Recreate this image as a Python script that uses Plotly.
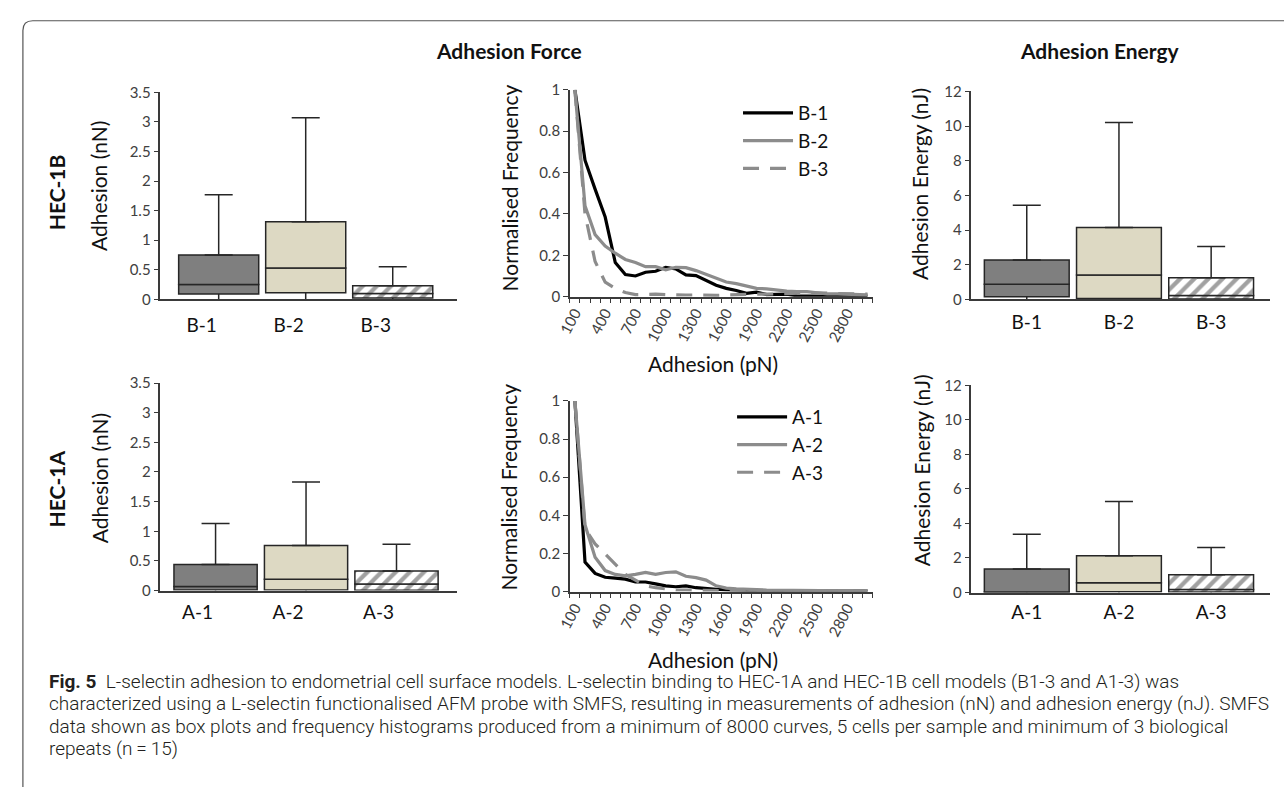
import plotly.graph_objects as go

W, H = 1284, 795

# ---------------- data ----------------
hec1b_groups = ["B-1", "B-2", "B-3"]
hec1a_groups = ["A-1", "A-2", "A-3"]

# Adhesion force (nN) box statistics
b_force_min = [0.0, 0.0, 0.0]
b_force_q1 = [0.09, 0.11, 0.02]
b_force_med = [0.25, 0.53, 0.10]
b_force_q3 = [0.75, 1.31, 0.23]
b_force_max = [1.77, 3.07, 0.55]

a_force_min = [0.0, 0.0, 0.0]
a_force_q1 = [0.01, 0.01, 0.005]
a_force_med = [0.07, 0.19, 0.11]
a_force_q3 = [0.44, 0.76, 0.33]
a_force_max = [1.13, 1.83, 0.78]

# Adhesion energy (nJ) box statistics
b_energy_min = [0.0, 0.0, 0.0]
b_energy_q1 = [0.15, 0.05, 0.02]
b_energy_med = [0.87, 1.40, 0.22]
b_energy_q3 = [2.27, 4.15, 1.25]
b_energy_max = [5.43, 10.2, 3.05]

a_energy_min = [0.0, 0.0, 0.0]
a_energy_q1 = [0.01, 0.04, 0.03]
a_energy_med = [0.03, 0.57, 0.17]
a_energy_q3 = [1.36, 2.13, 1.03]
a_energy_max = [3.38, 5.27, 2.60]

# Frequency distributions (normalised), adhesion bins in pN
adhesion_bins = [100, 200, 300, 400, 500, 600, 700, 800, 900, 1000,
                 1100, 1200, 1300, 1400, 1500, 1600, 1700, 1800, 1900, 2000,
                 2100, 2200, 2300, 2400, 2500, 2600, 2700, 2800, 2900, 3000]
bin_tick_labels = [100, 400, 700, 1000, 1300, 1600, 1900, 2200, 2500, 2800]

b1_freq = [1.0, 0.66, 0.52, 0.385, 0.165, 0.107, 0.10, 0.118, 0.123, 0.142,
           0.134, 0.105, 0.102, 0.08, 0.055, 0.04, 0.03, 0.016, 0.022, 0.01,
           0.01, 0.012, 0.004, 0.003, 0.003, 0.002, 0.004, 0.003, 0.003, 0.003]
b2_freq = [1.0, 0.44, 0.30, 0.245, 0.21, 0.18, 0.165, 0.145, 0.145, 0.13,
           0.142, 0.14, 0.126, 0.107, 0.087, 0.071, 0.063, 0.05, 0.04, 0.038,
           0.031, 0.027, 0.024, 0.024, 0.019, 0.013, 0.013, 0.011, 0.01, 0.009]
b3_freq = [1.0, 0.40, 0.17, 0.07, 0.04, 0.02, 0.01, 0.012, 0.012, 0.01,
           0.008, 0.008, 0.008, 0.006, 0.006, 0.008, 0.01, 0.01, 0.012, 0.012,
           0.014, 0.015, 0.015, 0.018, 0.018, 0.016, 0.015, 0.014, 0.013, 0.012]

a1_freq = [1.0, 0.155, 0.095, 0.075, 0.07, 0.065, 0.05, 0.05, 0.04, 0.03,
           0.025, 0.03, 0.02, 0.014, 0.012, 0.009, 0.006, 0.005, 0.004, 0.004,
           0.003, 0.003, 0.003, 0.002, 0.002, 0.002, 0.002, 0.002, 0.002, 0.002]
a2_freq = [1.0, 0.35, 0.18, 0.11, 0.09, 0.082, 0.09, 0.10, 0.09, 0.10,
           0.103, 0.08, 0.073, 0.06, 0.03, 0.018, 0.014, 0.01, 0.01, 0.008,
           0.007, 0.006, 0.005, 0.005, 0.004, 0.004, 0.004, 0.004, 0.004, 0.004]
a3_freq = [1.0, 0.33, 0.25, 0.195, 0.145, 0.09, 0.06, 0.03, 0.02, 0.012,
           0.008, 0.008, 0.006, 0.005, 0.004, 0.004, 0.004, 0.003, 0.003, 0.003,
           0.003, 0.003, 0.003, 0.003, 0.003, 0.003, 0.003, 0.003, 0.003, 0.003]

caption_lines = [
    "<b>Fig. 5</b>\u00a0\u00a0L-selectin adhesion to endometrial cell surface models. L-selectin binding to HEC-1A and HEC-1B cell models (B1-3 and A1-3) was",
    "characterized using a L-selectin functionalised AFM probe with SMFS, resulting in measurements of adhesion (nN) and adhesion energy (nJ). SMFS",
    "data shown as box plots and frequency histograms produced from a minimum of 8000 curves, 5 cells per sample and minimum of 3 biological",
    "repeats (n\u2009=\u200915)",
]

# ---------------- styles ----------------
FONT = "Lato"
TICK_COL = "#404040"
AX_COL = "#3a3a3a"
EDGE = "#262626"
BOX_FILL = ["#7f7f7f", "#ddd9c3", "#ffffff"]
BOX_PATTERN = ["", "", "/"]
HATCH = "#b8ad78"


def px_x(p):
    return p / W


def px_y(p):
    return 1 - p / H


fig = go.Figure()


def add_box_panel(n, cats, vmin, q1, med, q3, vmax, cap):
    xa = "x" if n == 1 else f"x{n}"
    ya = "y" if n == 1 else f"y{n}"
    for base, top in ((q1, med), (med, q3)):
        fig.add_trace(go.Bar(
            x=cats, y=[t - b for b, t in zip(base, top)], base=base,
            xaxis=xa, yaxis=ya, width=0.92, showlegend=False,
            marker=dict(color=BOX_FILL, line=dict(color=EDGE, width=1.5),
                        pattern=dict(shape=BOX_PATTERN, fgcolor=[HATCH] * 3,
                                     bgcolor=["#ffffff"] * 3, size=10,
                                     solidity=0.42, fillmode="overlay")),
            hoverinfo="skip"))
    fig.add_trace(go.Scatter(
        x=cats, y=q3, mode="markers", marker=dict(size=0.1, color=EDGE),
        xaxis=xa, yaxis=ya, showlegend=False, hoverinfo="skip",
        error_y=dict(type="data", symmetric=False,
                     array=[m - t for m, t in zip(vmax, q3)],
                     arrayminus=[0, 0, 0], color=EDGE, thickness=1.5, width=cap)))
    fig.add_trace(go.Scatter(
        x=cats, y=q1, mode="markers", marker=dict(size=0.1, color=EDGE),
        xaxis=xa, yaxis=ya, showlegend=False, hoverinfo="skip",
        error_y=dict(type="data", symmetric=False,
                     array=[0, 0, 0],
                     arrayminus=[b - m for b, m in zip(q1, vmin)],
                     color=EDGE, thickness=1.5, width=0)))


def add_line_panel(n, labels, series, legend):
    xa = "x" if n == 1 else f"x{n}"
    ya = "y" if n == 1 else f"y{n}"
    styles = [dict(color="#000000", width=3.2, dash="solid"),
              dict(color="#8c8c8c", width=3.2, dash="solid"),
              dict(color="#8c8c8c", width=3.2, dash="16px,11px")]
    for lab, ys, st in zip(labels, series, styles):
        fig.add_trace(go.Scatter(
            x=adhesion_bins, y=ys, mode="lines", name=lab, line=st,
            xaxis=xa, yaxis=ya, legend=legend, hoverinfo="skip"))


add_box_panel(1, hec1b_groups, b_force_min, b_force_q1, b_force_med, b_force_q3, b_force_max, 14)
add_line_panel(2, hec1b_groups, [b1_freq, b2_freq, b3_freq], "legend")
add_box_panel(3, hec1b_groups, b_energy_min, b_energy_q1, b_energy_med, b_energy_q3, b_energy_max, 14)
add_box_panel(4, hec1a_groups, a_force_min, a_force_q1, a_force_med, a_force_q3, a_force_max, 14)
add_line_panel(5, hec1a_groups, [a1_freq, a2_freq, a3_freq], "legend2")
add_box_panel(6, hec1a_groups, a_energy_min, a_energy_q1, a_energy_med, a_energy_q3, a_energy_max, 14)

# ---------------- axes ----------------
# panel pixel boxes: (x0, x1, ytop, ybottom)
panels = {
    1: (148, 448, 84.3, 296),
    2: (562, 868, 81.7, 293.3),
    3: (968, 1270, 83.3, 296),
    4: (148, 448, 381.7, 594),
    5: (562, 868, 400, 595),
    6: (968, 1270, 384, 596),
}
xranges = {1: [-0.67, 2.74], 3: [-0.60, 2.64], 4: [-0.61, 2.67], 6: [-0.60, 2.64]}
yranges = {1: [0, 3.5], 2: [0, 1], 3: [0, 12], 4: [0, 3.5], 5: [0, 1], 6: [0, 12]}
ydticks = {1: 0.5, 2: 0.2, 3: 2, 4: 0.5, 5: 0.2, 6: 2}
label_shift = {1: -17, 3: 0, 4: -18, 6: 0}
label_standoff = {1: 8, 3: 5, 4: 4, 6: 2}

layout_axes = {}
for n, (x0, x1, yt, yb) in panels.items():
    xk = "xaxis" if n == 1 else f"xaxis{n}"
    yk = "yaxis" if n == 1 else f"yaxis{n}"
    ya_name = "y" if n == 1 else f"y{n}"
    xa_name = "x" if n == 1 else f"x{n}"
    if n in (2, 5):
        layout_axes[xk] = dict(
            domain=[px_x(x0), px_x(x1)], anchor=ya_name, range=[50, 3050],
            showline=True, linecolor=AX_COL, linewidth=1.5, showgrid=False,
            zeroline=False, tickmode="array", tickvals=bin_tick_labels,
            ticktext=[str(v) for v in bin_tick_labels], tickangle=-62,
            ticks="", tickfont=dict(family=FONT, size=15, color=TICK_COL),
            minor=dict(ticks="outside", ticklen=5, tickcolor=AX_COL,
                       tickwidth=1.3, tick0=50, dtick=100, showgrid=False))
    else:
        layout_axes[xk] = dict(
            domain=[px_x(x0), px_x(x1)], anchor=ya_name, type="category",
            range=xranges[n], showline=True, linecolor=AX_COL, linewidth=1.5,
            showgrid=False, zeroline=False, ticks="",
            tickfont=dict(family=FONT, size=19, color="#111111"),
            ticklabelshift=label_shift[n], ticklabelstandoff=label_standoff[n])
    layout_axes[yk] = dict(
        domain=[px_y(yb), px_y(yt)], anchor=xa_name, range=yranges[n],
        dtick=ydticks[n], tick0=0, showline=True, linecolor=AX_COL,
        linewidth=1.5, showgrid=False, zeroline=False, ticks="outside",
        ticklen=5, tickwidth=1.3, tickcolor=AX_COL,
        tickfont=dict(family=FONT, size=15, color=TICK_COL))

fig.update_layout(**layout_axes)

# ---------------- annotations ----------------
ann = []


def add_text(text, x, y, size=21, angle=0, bold=False, color="#111111",
             family=FONT, xanchor="center", weight=None):
    font = dict(family=family, size=size, color=color)
    if weight is not None:
        font["weight"] = weight
    ann.append(dict(text=f"<b>{text}</b>" if bold else text,
                    x=px_x(x), y=px_y(y), xref="paper", yref="paper",
                    showarrow=False, textangle=angle, xanchor=xanchor,
                    yanchor="middle", font=font))


add_text("Adhesion Force", 500, 41, size=21, bold=True)
add_text("Adhesion Energy", 1098, 41, size=21, bold=True)
add_text("HEC-1B", 43, 187, size=21, angle=-90, bold=True)
add_text("HEC-1A", 43, 490, size=21, angle=-90, bold=True)
add_text("Adhesion (nN)", 86, 180, angle=-90)
add_text("Adhesion (nN)", 86, 479, angle=-90)
add_text("Normalised Frequency", 501, 182, angle=-90)
add_text("Normalised Frequency", 500, 488, angle=-90)
add_text("Adhesion Energy (nJ)", 916, 178, angle=-90)
add_text("Adhesion Energy (nJ)", 917, 471, angle=-90)
add_text("Adhesion (pN)", 707, 362)
add_text("Adhesion (pN)", 707, 665)

cap_y = [687, 710, 733, 756]
for line, y in zip(caption_lines, cap_y):
    add_text(line, 33, y, size=19, family="Roboto", color="#231f20",
             xanchor="left", weight=300)

# frame with rounded top-left corner
r = 10
path = (f"M {px_x(9)},{px_y(795)} L {px_x(9)},{px_y(11 + r)} "
        f"Q {px_x(9)},{px_y(11)} {px_x(9 + r)},{px_y(11)} L {px_x(1290)},{px_y(11)}")

fig.update_layout(
    width=W, height=H, margin=dict(l=0, r=0, t=0, b=0),
    paper_bgcolor="white", plot_bgcolor="white",
    barmode="overlay", annotations=ann,
    shapes=[dict(type="path", path=path, xref="paper", yref="paper",
                 line=dict(color="#555555", width=1.2))],
    legend=dict(x=px_x(732), y=px_y(86), xanchor="left", yanchor="top",
                bgcolor="rgba(0,0,0,0)", font=dict(family=FONT, size=19, color="#111111"),
                itemwidth=50, tracegroupgap=0),
    legend2=dict(x=px_x(726), y=px_y(397), xanchor="left", yanchor="top",
                 bgcolor="rgba(0,0,0,0)", font=dict(family=FONT, size=19, color="#111111"),
                 itemwidth=50, tracegroupgap=0),
    showlegend=True,
)

fig.write_html("out.html", config={"displayModeBar": False},
               post_script="document.body.style.margin='0px';document.body.style.overflow='hidden';")
